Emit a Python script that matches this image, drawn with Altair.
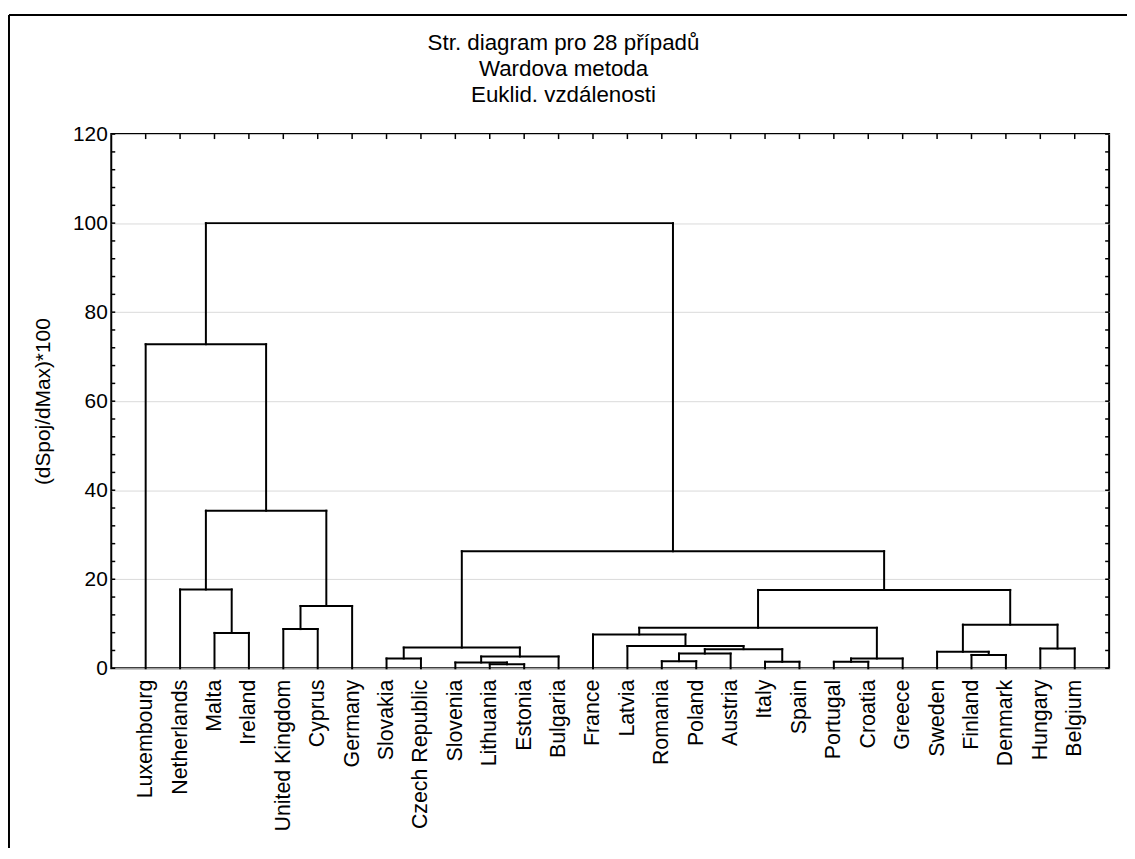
import json
import altair as alt
import pandas as pd

# ---------------- data ----------------
leaves = ["Luxembourg", "Netherlands", "Malta", "Ireland", "United Kingdom", "Cyprus",
          "Germany", "Slovakia", "Czech Republic", "Slovenia", "Lithuania", "Estonia",
          "Bulgaria", "France", "Latvia", "Romania", "Poland", "Austria", "Italy", "Spain",
          "Portugal", "Croatia", "Greece", "Sweden", "Finland", "Denmark", "Hungary", "Belgium"]

# merges: "#k" refers to the k-th merge
merge_a = ["Lithuania", "Slovenia", "Romania", "Portugal", "Italy", "Slovakia", "#3",
           "#1", "Finland", "#2", "Sweden", "#9", "Hungary", "#5", "Latvia", "France",
           "Malta", "United Kingdom", "#15", "#10", "#17", "#18", "Netherlands", "#13",
           "#22", "Luxembourg", "#25"]
merge_b = ["Estonia", "#0", "Poland", "Croatia", "Spain", "Czech Republic", "Greece",
           "Bulgaria", "Denmark", "Austria", "#8", "#4", "Belgium", "#7", "#11", "#14",
           "Ireland", "Cyprus", "#6", "#12", "Germany", "#19", "#16", "#21",
           "#20", "#24", "#23"]
merge_h = [0.9, 1.3, 1.6, 1.45, 1.45, 2.2, 2.2,
           2.65, 3.0, 3.3, 3.7, 4.3, 4.45, 4.65, 5.0, 7.6,
           7.95, 8.8, 9.1, 9.8, 14.0, 17.6, 17.7, 26.3,
           35.4, 72.8, 100.0]

title_lines = ["Str. diagram pro 28 případů", "Wardova metoda", "Euklid. vzdálenosti"]
y_title = "(dSpoj/dMax)*100"
y_label_values = [0, 20, 40, 60, 80, 100, 120]
y_minor_ticks = [0, 4, 8, 12, 16, 20, 24, 28, 32, 36, 40, 44, 48, 52, 56, 60, 64, 68,
                 72, 76, 80, 84, 88, 92, 96, 100, 104, 108, 112, 116, 120]

# ---------------- build dendrogram segments ----------------
pos = {name: i + 1 for i, name in enumerate(leaves)}
hgt = {name: 0.0 for name in leaves}
segs = []
for k, (a, b, h) in enumerate(zip(merge_a, merge_b, merge_h)):
    xa, xb = pos[a], pos[b]
    segs.append(dict(x=xa, x2=xb, y=h, y2=h))
    segs.append(dict(x=xa, x2=xa, y=hgt[a], y2=h))
    segs.append(dict(x=xb, x2=xb, y=hgt[b], y2=h))
    pos[f"#{k}"] = (xa + xb) / 2
    hgt[f"#{k}"] = h
seg_df = pd.DataFrame(segs)

leaf_df = pd.DataFrame({"x": list(range(1, len(leaves) + 1)), "name": leaves})
ytick_df = pd.DataFrame({"y": y_minor_ticks})

FONT = "Liberation Sans"
N = len(leaves)
W, H = 1005, 538

xscale = alt.Scale(domain=[0, N + 1], nice=False, zero=False)
yscale = alt.Scale(domain=[0, 120], nice=False, zero=False)

label_expr = json.dumps(leaves) + "[datum.value - 1]"

xaxis = alt.Axis(values=list(range(1, N + 1)), labelExpr=label_expr, labelAngle=270,
                 labelAlign="right", labelBaseline="middle", labelPadding=11,
                 labelFontSize=21.5, labelFont=FONT, labelColor="black",
                 labelOverlap=False, labelFlush=False, labelBound=False,
                 tickSize=0, domain=False, grid=False, title="")
yaxis = alt.Axis(values=y_label_values, labelFontSize=21, labelFont=FONT,
                 labelColor="black", labelPadding=4, tickSize=0, domain=False,
                 grid=True, gridColor="#dadada", gridWidth=1,
                 title=y_title, titleFont=FONT, titleFontSize=21,
                 titleFontWeight="normal", titleColor="black", titlePadding=19)

dend = alt.Chart(seg_df).mark_rule(color="black", strokeWidth=2, strokeCap="square").encode(
    x=alt.X("x:Q", scale=xscale, axis=xaxis),
    x2="x2:Q",
    y=alt.Y("y:Q", scale=yscale, axis=yaxis),
    y2="y2:Q",
)

left_ticks = alt.Chart(ytick_df).mark_rule(color="black", strokeWidth=1.5).encode(
    y=alt.Y("y:Q", scale=yscale, axis=yaxis), x=alt.value(0), x2=alt.value(4))
right_ticks = alt.Chart(ytick_df).mark_rule(color="black", strokeWidth=1.5).encode(
    y=alt.Y("y:Q", scale=yscale, axis=yaxis), x=alt.value(W - 4), x2=alt.value(W))
top_ticks = alt.Chart(leaf_df).mark_rule(color="black", strokeWidth=1.5).encode(
    x=alt.X("x:Q", scale=xscale, axis=xaxis), y=alt.value(0), y2=alt.value(5))

one = pd.DataFrame({"a": [0]})
frame_left = alt.Chart(one).mark_rule(color="black", strokeWidth=2).encode(
    x=alt.value(-103), y=alt.value(-120), y2=alt.value(760))
frame_top = alt.Chart(one).mark_rule(color="black", strokeWidth=2).encode(
    x=alt.value(-103), x2=alt.value(1040), y=alt.value(-120))

chart = alt.layer(dend, left_ticks, right_ticks, top_ticks, frame_left, frame_top).properties(
    width=W, height=H,
    background="white",
    autosize=alt.AutoSizeParams(type="none"),
    padding={"left": 104, "top": 124, "right": 18, "bottom": 178},
    title=alt.Title(text=title_lines, fontSize=22.5, font=FONT, fontWeight="normal",
                    lineHeight=26, anchor="middle", dx=-47, offset=-93, color="black"),
).configure_view(stroke="black", strokeWidth=2)

chart.save("out.html", embed_options={"renderer": "svg", "actions": False})
